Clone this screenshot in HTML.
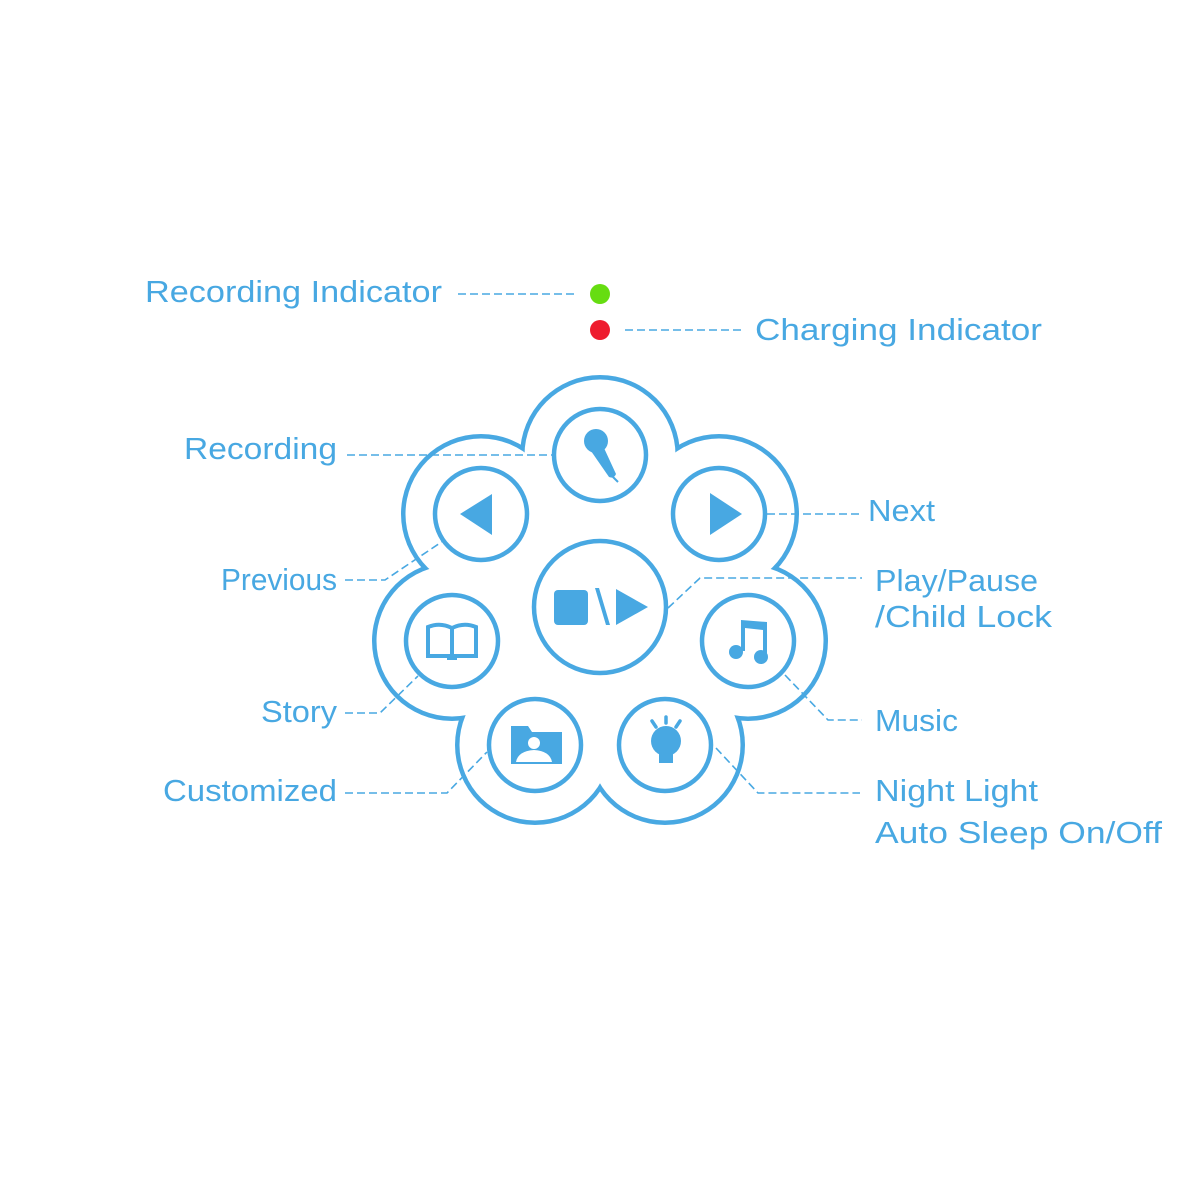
<!DOCTYPE html>
<html><head><meta charset="utf-8"><style>
html,body{margin:0;padding:0;background:#fff;}
svg{display:block}
text{font-family:"Liberation Sans",sans-serif;fill:#48a8e2;font-size:31px;}
</style></head><body>
<svg width="1200" height="1200" viewBox="0 0 1200 1200" xmlns="http://www.w3.org/2000/svg">
<g fill="#48a8e2">
<circle cx="600" cy="455" r="80"/><circle cx="481" cy="514" r="80"/><circle cx="719" cy="514" r="80"/>
<circle cx="452" cy="641" r="80"/><circle cx="748" cy="641" r="80"/><circle cx="535" cy="745" r="80"/><circle cx="665" cy="745" r="80"/>
</g>
<g fill="#fff">
<circle cx="600" cy="455" r="75.5"/><circle cx="481" cy="514" r="75.5"/><circle cx="719" cy="514" r="75.5"/>
<circle cx="452" cy="641" r="75.5"/><circle cx="748" cy="641" r="75.5"/><circle cx="535" cy="745" r="75.5"/><circle cx="665" cy="745" r="75.5"/>
<circle cx="600" cy="607" r="130"/>
</g>
<g fill="none" stroke="#48a8e2" stroke-width="1.6" stroke-dasharray="8,4">
<path d="M458 294H575"/>
<path d="M625 330H742"/>
<path d="M347 455H552"/>
<path d="M345 580H385L443 541"/>
<path d="M767 514H862"/>
<path d="M668 608L700 578H862"/>
<path d="M345 713H380L418 676"/>
<path d="M785 675L828 720H862"/>
<path d="M345 793H447L487 752"/>
<path d="M716 748L758 793H860"/>
</g>
<g fill="none" stroke="#48a8e2" stroke-width="4.5">
<circle cx="600" cy="455" r="46"/><circle cx="481" cy="514" r="46"/><circle cx="719" cy="514" r="46"/>
<circle cx="452" cy="641" r="46"/><circle cx="748" cy="641" r="46"/><circle cx="535" cy="745" r="46"/><circle cx="665" cy="745" r="46"/>
<circle cx="600" cy="607" r="66"/>
</g>
<circle cx="600" cy="294" r="10" fill="#66dd11"/>
<circle cx="600" cy="330" r="10" fill="#ee1c2e"/>
<g fill="#48a8e2">
<!-- mic -->
<circle cx="596" cy="441" r="12"/>
<path d="M591 451 L604 448 L616 474 Q614 479 609 477 Z"/>
<path d="M612 476 L618 482" stroke="#48a8e2" stroke-width="2"/>
<!-- prev -->
<path d="M460 514 L492 494 L492 535 Z"/>
<!-- next -->
<path d="M710 493 L742 514 L710 535 Z"/>
<!-- play/pause -->
<rect x="554" y="590" width="34" height="35" rx="4"/>
<path d="M595 588 L599 588 L610 625 L606 625 Z"/>
<path d="M616 589 L648 607 L616 625 Z"/>
<!-- music -->
<path d="M741 620 L767 622 L767 658 L763 658 L763 630 L745 628 L745 651 L741 651 Z"/>
<circle cx="736" cy="652" r="7"/><circle cx="761" cy="657" r="7"/>
</g>
<!-- book -->
<g fill="none" stroke="#48a8e2" stroke-width="4">
<path d="M428 627 Q440 622 452 628 Q464 622 476 627 V656 H428 Z"/>
<path d="M452 628 V656"/>
</g>
<rect x="447" y="656" width="10" height="4" fill="#48a8e2"/>
<!-- folder -->
<path d="M511 726 H528 L532 732 H562 V764 H511 Z" fill="#48a8e2"/>
<circle cx="534" cy="743" r="6" fill="#fff"/>
<path d="M516 762 Q518 751 534 750 Q550 751 552 762 Z" fill="#fff"/>
<!-- bulb -->
<circle cx="666" cy="741" r="15" fill="#48a8e2"/>
<rect x="659" y="748" width="14" height="15" fill="#48a8e2"/>
<g stroke="#48a8e2" stroke-width="3.5" stroke-linecap="round">
<path d="M666 717V723M652 721L656 727M680 721L676 727"/>
</g>
<text x="145" y="302" textLength="297" lengthAdjust="spacingAndGlyphs">Recording Indicator</text>
<text x="755" y="340" textLength="287" lengthAdjust="spacingAndGlyphs">Charging Indicator</text>
<text x="184" y="459" textLength="153" lengthAdjust="spacingAndGlyphs">Recording</text>
<text x="221" y="590" textLength="116" lengthAdjust="spacingAndGlyphs">Previous</text>
<text x="868" y="521" textLength="67" lengthAdjust="spacingAndGlyphs">Next</text>
<text x="875" y="591" textLength="163" lengthAdjust="spacingAndGlyphs">Play/Pause</text>
<text x="875" y="627" textLength="177" lengthAdjust="spacingAndGlyphs">/Child Lock</text>
<text x="261" y="722" textLength="76" lengthAdjust="spacingAndGlyphs">Story</text>
<text x="875" y="731" textLength="83" lengthAdjust="spacingAndGlyphs">Music</text>
<text x="163" y="801" textLength="174" lengthAdjust="spacingAndGlyphs">Customized</text>
<text x="875" y="801" textLength="163" lengthAdjust="spacingAndGlyphs">Night Light</text>
<text x="875" y="843" textLength="287" lengthAdjust="spacingAndGlyphs">Auto Sleep On/Off</text>
</svg>
</body></html>
